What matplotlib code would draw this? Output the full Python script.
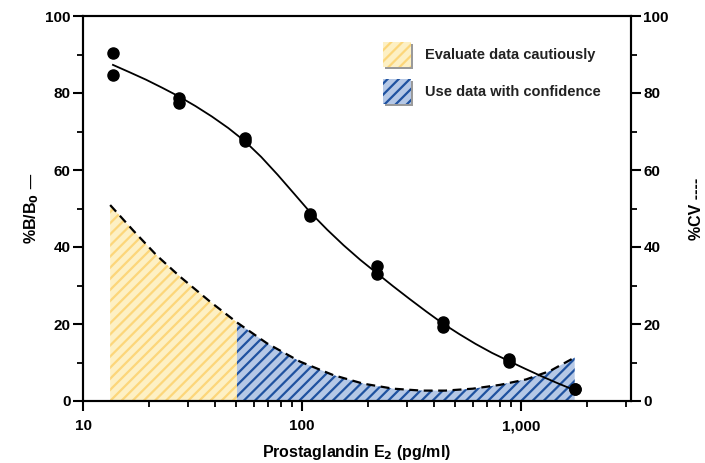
import numpy as np
import matplotlib
matplotlib.use('Agg')
import matplotlib.pyplot as plt
from matplotlib.patches import Rectangle
from matplotlib.ticker import FixedLocator, NullFormatter

plt.rcParams['font.family'] = ['Liberation Sans', 'DejaVu Sans']
plt.rcParams['font.weight'] = 'bold'
plt.rcParams['hatch.linewidth'] = 1.6

# standard curve points (duplicates), pg/ml vs %B/B0
conc = [13.7, 13.7, 27.4, 27.4, 54.7, 54.7, 109, 109, 219, 219, 438, 438, 875, 875, 1750, 1750]
bb0 = [90.3, 84.6, 78.6, 77.3, 68.3, 67.6, 48.6, 48.0, 35.0, 33.0, 20.6, 19.3, 10.8, 10.2, 3.0, 3.0]

# fitted curve
fit_x = [13.7, 16.3, 19.4, 23.0, 27.4, 32.6, 38.7, 46.0, 54.7, 65.0, 77.3, 92.0, 109.4, 130,
         154.5, 183.7, 219, 260, 309, 367, 437.5, 520, 617, 734, 875, 1038, 1233, 1466, 1750]
fit_y = [87.3, 85.4, 83.45, 81.35, 79.1, 76.6, 73.9, 70.9, 67.5, 63.4, 58.75, 53.8, 48.85, 44.5,
         40.45, 36.7, 33.2, 29.8, 26.5, 23.3, 20.15, 17.4, 14.85, 12.5, 10.4, 8.4, 6.45, 4.6, 2.8]

# %CV curve
cv_x = [13.3, 17.0, 21.7, 27.7, 38.0, 50.4, 69, 98, 139, 190, 260, 350, 450, 600, 800, 1050, 1350, 1750]
cv_y = [50.9, 44.2, 37.8, 32.3, 25.8, 20.4, 15.0, 10.2, 6.7, 4.5, 3.2, 2.7, 2.7, 3.2, 4.2, 5.6, 7.8, 11.3]
split_x = 50.4

yellow_bg, yellow_st = '#fdf0c4', '#fcd67a'
blue_bg, blue_st = '#b5c8e6', '#1f52a0'

fig = plt.figure(figsize=(7.05, 4.63), dpi=100)
ax = fig.add_axes([83/705, 1-401/463, (631-83)/705, (401-16)/463])

cx = np.array(cv_x)
cy = np.array(cv_y)
ax.fill_between(cx, 0, cy, where=cx <= split_x, facecolor=yellow_bg, edgecolor=yellow_st,
                hatch='///', linewidth=0, interpolate=True)
ax.fill_between(cx, 0, cy, where=cx >= split_x, facecolor=blue_bg, edgecolor=blue_st,
                hatch='///', linewidth=0, interpolate=True)
ax.plot(cv_x, cv_y, color='black', linestyle=(0, (4, 2.5)), linewidth=1.6)

ax.plot(fit_x, fit_y, color='black', linewidth=1.3)
ax.plot(conc, bb0, 'o', color='black', markersize=8)

ax.set_xscale('log')
ax.set_xlim(10, 10**3.5)
ax.set_ylim(0, 100)

ax.set_xticks([10, 100, 1000])
ax.set_xticklabels(['10', '100', '1,000'])
minors = [m * d for d in (10, 100, 1000) for m in range(2, 10) if m * d < 10**3.5]
ax.xaxis.set_minor_locator(FixedLocator(minors))
ax.xaxis.set_minor_formatter(NullFormatter())
ax.set_yticks([0, 20, 40, 60, 80, 100])
ax.set_yticks([10, 30, 50, 70, 90], minor=True)

ax2 = ax.twinx()
ax2.set_ylim(0, 100)
ax2.set_yticks([0, 20, 40, 60, 80, 100])
ax2.set_yticks([10, 30, 50, 70, 90], minor=True)

for a in (ax, ax2):
    for s in a.spines.values():
        s.set_linewidth(1.5)
    a.tick_params(which='major', length=7, width=1.5, labelsize=11, direction='out', pad=2)
    a.tick_params(which='minor', length=4, width=1.3, direction='out')
ax.tick_params(axis='x', pad=6)

ax.set_xlabel('Prostaglandin E$_\\mathbf{2}$ (pg/ml)', fontsize=11.5, fontweight='bold')
ax.set_ylabel('%B/B$_\\mathbf{0}$ —', fontsize=11.5, fontweight='bold')
ax2.set_ylabel('%CV ----', fontsize=11.5, fontweight='bold')
ax.xaxis.set_label_coords(0.5, -0.11)
ax.yaxis.set_label_coords(-0.076, 0.5)
ax2.yaxis.set_label_coords(1.106, 0.5)

# legend swatches
def px(x, y):
    return ((x - 83) / (631 - 83), (401 - y) / (401 - 16))

for (top, fc, ec, label) in [(41, yellow_bg, yellow_st, 'Evaluate data cautiously'),
                             (78, blue_bg, blue_st, 'Use data with confidence')]:
    x0, y0 = px(383, top + 26)
    w = 28 / (631 - 83)
    h = 25 / (401 - 16)
    sx, sy = px(385, top + 28)
    ax.add_patch(Rectangle((sx, sy), w, h, transform=ax.transAxes, facecolor='#9a9a9a',
                           edgecolor='none', zorder=5))
    ax.add_patch(Rectangle((x0, y0), w, h, transform=ax.transAxes, facecolor=fc,
                           edgecolor=ec, hatch='///', linewidth=0, zorder=6))
    tx, ty = px(425, top + 14)
    ax.text(tx, ty, label, transform=ax.transAxes, fontsize=10.5, fontweight='bold',
            color='#222222', va='center', ha='left', zorder=7)

fig.savefig('out.png', dpi=100)
